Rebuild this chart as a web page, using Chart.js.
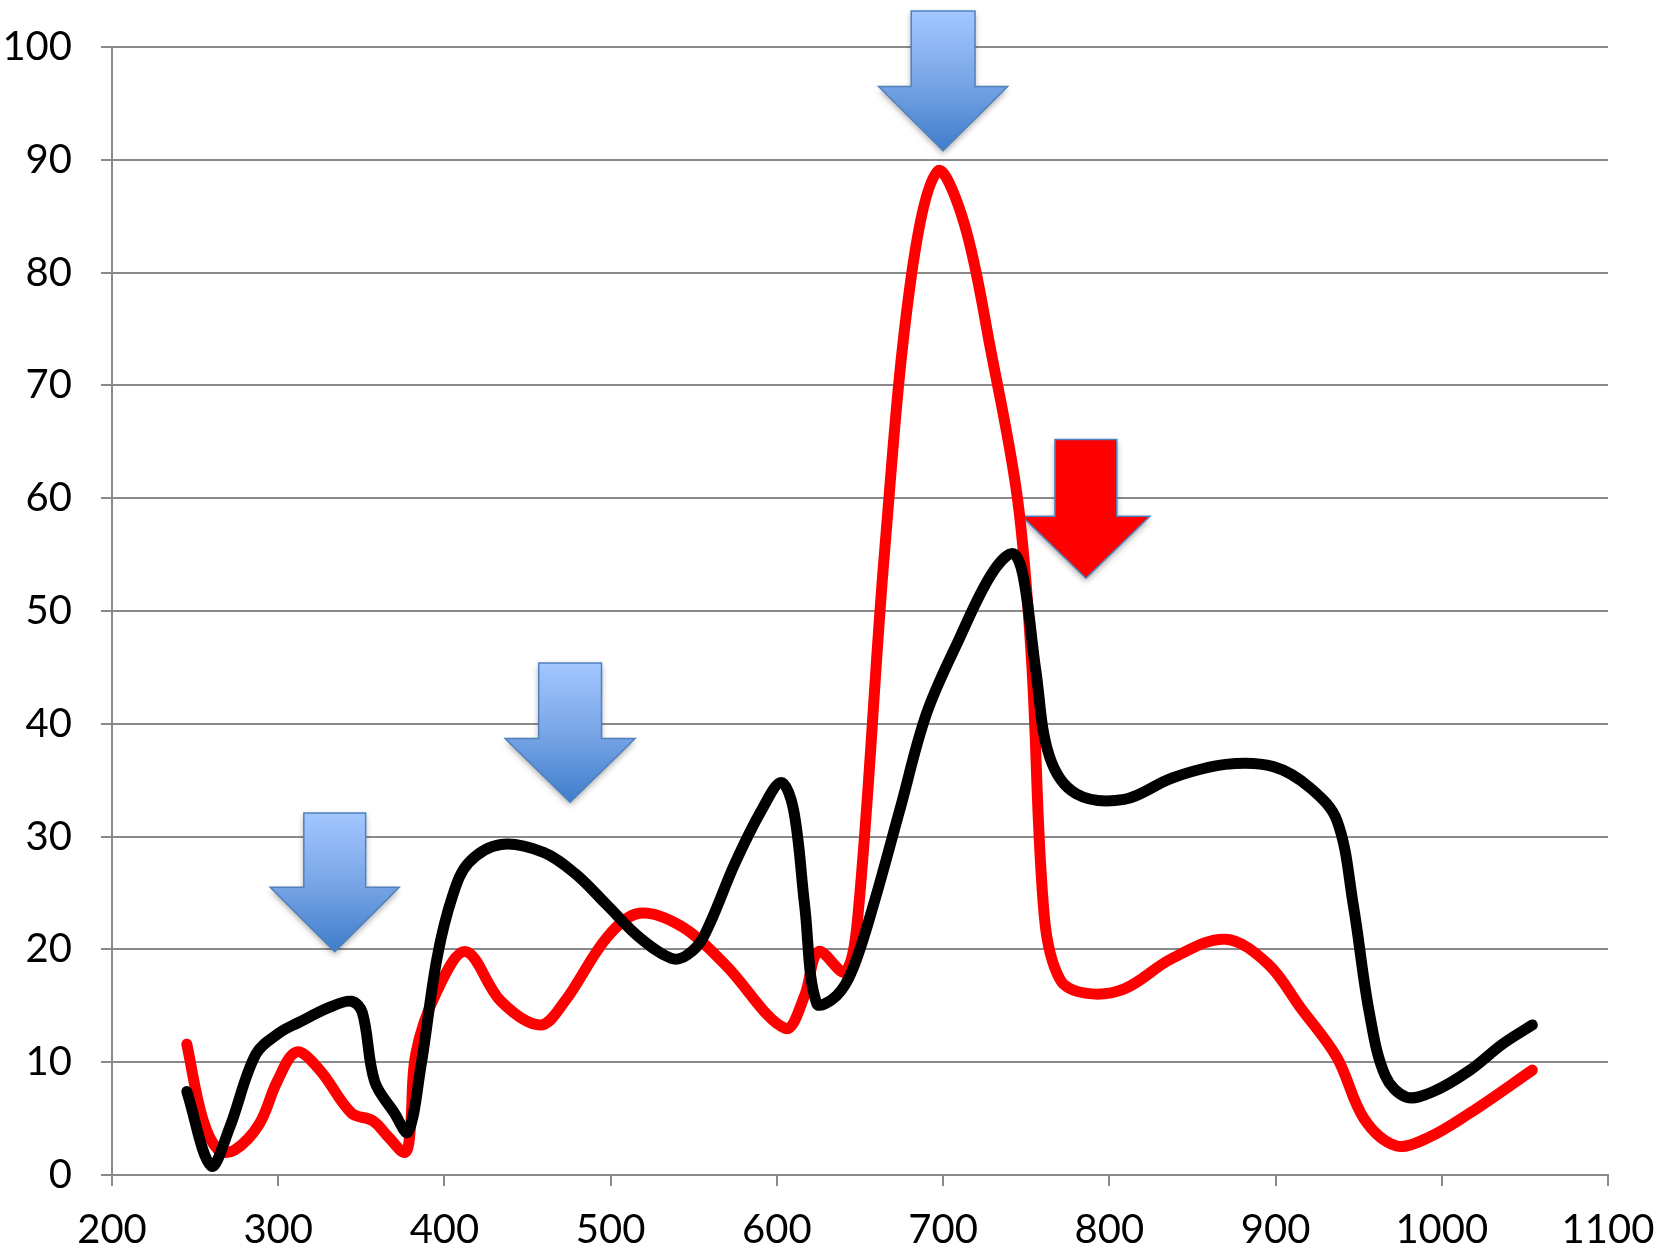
<!DOCTYPE html>
<html>
<head>
<meta charset="utf-8">
<title>Spectrum</title>
<script src="https://cdn.jsdelivr.net/npm/chart.js@4.4.1/dist/chart.umd.min.js"></script>
<style>
  html, body { margin: 0; padding: 0; background: #fff; }
  #chart { display: block; }
</style>
</head>
<body>
<canvas id="chart" width="1671" height="1253"></canvas>
<script>
/* ── Data ──────────────────────────────────────────────────── */
const blackX = [245, 259.6, 270.5, 286.5, 300.6, 312, 331.4, 344, 350.6, 358, 369.9, 378, 385.9, 395.5, 405, 414.7, 434, 459.6, 478.8, 498, 517, 536.5, 546, 555.8, 575, 591, 602.6, 610, 616.7, 624, 635.9, 645.5, 658, 674, 690, 709.6, 728.8, 741.7, 748, 755.8, 764, 780, 809, 837.8, 869.9, 898.7, 921, 937, 946.8, 956.4, 966, 978.8, 994.9, 1017, 1036.5, 1054.5];
const blackY = [7.4, 0.8, 4.1, 10.7, 12.6, 13.5, 14.9, 15.4, 14.4, 8.3, 5.5, 3.8, 9.7, 19.2, 24.8, 27.7, 29.3, 28.6, 26.7, 23.9, 21.1, 19.2, 19.5, 21.1, 27.7, 32.4, 34.8, 32.4, 23.9, 15.2, 15.9, 18.2, 23.9, 32.4, 40.9, 47.5, 53.2, 55.1, 53.2, 44.7, 37.1, 33.8, 33.3, 35.2, 36.4, 36.2, 34.3, 31.4, 23.9, 14.4, 8.8, 6.9, 7.4, 9.3, 11.6, 13.3];

const redX = [245, 254.5, 264, 273.7, 288.5, 299.4, 311, 325, 344, 357, 366.7, 376.3, 379.5, 382.7, 395.5, 412.8, 434, 457.7, 472.4, 498, 517.3, 543, 568.6, 605, 616.7, 625, 641, 648.7, 664.7, 680.8, 696.8, 712.8, 728.8, 744.9, 753.2, 760.9, 770.5, 786.5, 809, 837.8, 870, 895.5, 914.7, 937, 953.2, 972.4, 991.7, 1017, 1054.5];
const redY = [11.6, 5.0, 2.2, 2.2, 4.5, 8.3, 10.9, 9.3, 5.5, 4.8, 3.3, 2.0, 4.1, 10.7, 16.3, 19.8, 15.4, 13.3, 15.4, 21.1, 23.2, 22.0, 18.7, 13.0, 15.9, 19.8, 18.0, 22.9, 55.1, 79.6, 89.0, 84.3, 73.0, 59.8, 45.6, 22.9, 17.3, 16.1, 16.5, 19.2, 20.9, 18.7, 14.9, 10.4, 5.0, 2.6, 3.3, 5.5, 9.3];

/* Arrow annotations, in data units: tip, head base, shaft top, half widths */
const arrowTipX   = [334, 475.6, 700, 785.9];
const arrowTipY   = [19.8, 33.05, 90.8, 52.9];
const arrowBaseY  = [25.5, 38.7, 96.5, 58.4];
const arrowTopY   = [32.1, 45.4, 103.2, 65.2];
const arrowShaftW = [18.6, 18.9, 19.2, 18.6];
const arrowHeadW  = [38.8, 39.1, 38.8, 38.5];
const arrowFill   = ['blue', 'blue', 'blue', 'red'];

const toPoints = (xs, ys) => xs.map((x, i) => ({ x, y: ys[i] }));

/* ── Arrow plugin ──────────────────────────────────────────── */
const arrowPlugin = {
  id: 'arrows',
  beforeDatasetsDraw(chart) {
    const { ctx, scales: { x, y } } = chart;
    arrowTipX.forEach((tx, i) => {
      const cx = x.getPixelForValue(tx);
      const tip = y.getPixelForValue(arrowTipY[i]);
      const base = y.getPixelForValue(arrowBaseY[i]);
      const top = y.getPixelForValue(arrowTopY[i]);
      const sw = x.getPixelForValue(tx + arrowShaftW[i]) - cx;
      const hw = x.getPixelForValue(tx + arrowHeadW[i]) - cx;

      ctx.save();
      ctx.beginPath();
      ctx.moveTo(cx - sw, top);
      ctx.lineTo(cx + sw, top);
      ctx.lineTo(cx + sw, base);
      ctx.lineTo(cx + hw, base);
      ctx.lineTo(cx, tip);
      ctx.lineTo(cx - hw, base);
      ctx.lineTo(cx - sw, base);
      ctx.closePath();

      if (arrowFill[i] === 'red') {
        ctx.fillStyle = '#ff0000';
      } else {
        const g = ctx.createLinearGradient(0, top, 0, tip);
        g.addColorStop(0, '#a3c6ff');
        g.addColorStop(0.5, '#79a6e6');
        g.addColorStop(1, '#3f7dcb');
        ctx.fillStyle = g;
      }
      ctx.shadowColor = 'rgba(0,0,0,0.35)';
      ctx.shadowBlur = 6;
      ctx.shadowOffsetY = 3;
      ctx.fill();
      ctx.shadowColor = 'transparent';
      ctx.lineWidth = 1.5;
      ctx.strokeStyle = '#4f81bd';
      ctx.stroke();
      ctx.restore();
    });
  }
};

/* ── Chart ─────────────────────────────────────────────────── */
const FONT = { family: 'Lato, "Open Sans", sans-serif', size: 40 };
const GRID = '#8a8a8a';

new Chart(document.getElementById('chart').getContext('2d'), {
  type: 'scatter',
  data: {
    datasets: [
      {
        data: toPoints(blackX, blackY),
        showLine: true,
        borderColor: '#000000',
        borderWidth: 11,
        pointRadius: 0,
        tension: 0.35,
        borderCapStyle: 'round',
        borderJoinStyle: 'round'
      },
      {
        data: toPoints(redX, redY),
        showLine: true,
        borderColor: '#ff0000',
        borderWidth: 11,
        pointRadius: 0,
        tension: 0.35,
        borderCapStyle: 'round',
        borderJoinStyle: 'round'
      }
    ]
  },
  options: {
    responsive: false,
    animation: false,
    layout: { padding: { left: 0, top: 47, right: 63, bottom: 0 } },
    plugins: { legend: { display: false }, tooltip: { enabled: false } },
    scales: {
      x: {
        type: 'linear',
        min: 200,
        max: 1100,
        afterFit: s => { s.height = 78; s.paddingLeft = 0; s.paddingRight = 0; },
        grid: { drawOnChartArea: false, drawTicks: true, tickLength: 11, color: GRID, lineWidth: 2 },
        border: { color: GRID, width: 2 },
        ticks: { stepSize: 100, color: '#000', font: FONT, padding: 20, maxRotation: 0, callback: v => String(v) }
      },
      y: {
        min: 0,
        max: 100,
        afterFit: s => { s.width = 112; s.paddingTop = 0; s.paddingBottom = 0; },
        grid: { color: GRID, lineWidth: 2, tickLength: 11 },
        border: { color: GRID, width: 2 },
        ticks: { stepSize: 10, color: '#000', font: FONT, padding: 29, callback: v => String(v) }
      }
    }
  },
  plugins: [arrowPlugin]
});
</script>
</body>
</html>
